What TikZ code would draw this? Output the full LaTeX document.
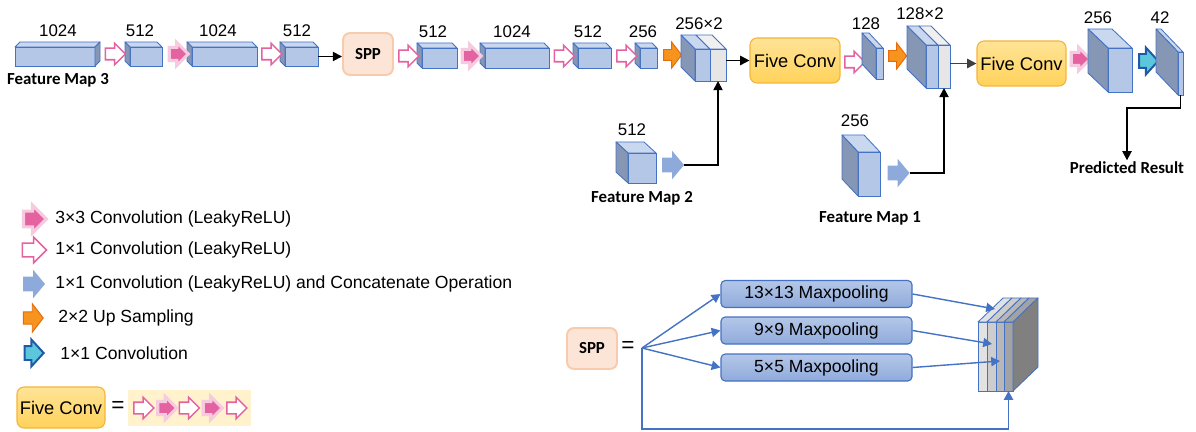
\documentclass[tikz,border=0pt]{standalone}
\usepackage{fontspec}
\setmainfont{Liberation Sans}
\newfontfamily\carlito{Carlito}
\usetikzlibrary{arrows.meta,shapes.arrows,calc}
\usepackage{xcolor}
\definecolor{boxblue}{HTML}{B4C7E7}
\definecolor{boxtop}{HTML}{C9D7EF}
\definecolor{boxside}{HTML}{8597B5}
\definecolor{boxline}{HTML}{4472C4}
\definecolor{catgrey}{HTML}{E7E6E6}
\definecolor{cattop}{HTML}{F0F0F0}
\definecolor{pinkc}{HTML}{E4629F}
\definecolor{pinkglow}{HTML}{F6CADF}
\definecolor{catblue}{HTML}{8EAADB}
\definecolor{uporange}{HTML}{F7941D}
\definecolor{upedge}{HTML}{E46C0A}
\definecolor{cyanc}{HTML}{5BC6DC}
\definecolor{cyanedge}{HTML}{1F5AA6}
\definecolor{fivetop}{HTML}{FFE397}
\definecolor{fivebot}{HTML}{FFD25A}
\definecolor{fiveline}{HTML}{F4B63C}
\definecolor{sppfill}{HTML}{FCE4D6}
\definecolor{sppline}{HTML}{F8CBAD}
\definecolor{bandyellow}{HTML}{FFF2CC}
\definecolor{mptop}{HTML}{B4C7E7}
\definecolor{mpbot}{HTML}{8FAADC}
\definecolor{stka}{HTML}{E2E2E2}
\definecolor{stkb}{HTML}{CDCDCD}
\definecolor{stkc}{HTML}{B7B7B7}
\definecolor{stkd}{HTML}{A2A2A2}
\definecolor{stkside}{HTML}{808080}

\begin{document}
\begin{tikzpicture}[
    x=0.025cm, y=-0.025cm,
    num/.style={font=\fontsize{12}{14}\selectfont, inner sep=1pt},
    mapname/.style={font=\carlito\fontsize{12}{14}\selectfont\bfseries, inner sep=1pt},
    legtext/.style={font=\fontsize{12.5}{15}\selectfont, anchor=west, inner sep=1.5pt},
    front/.style={draw=boxline, fill=boxblue, line width=0.6pt, inner sep=0pt, outer sep=0pt},
    face/.style={draw=boxline, line width=0.6pt, line join=round},
    blockarr/.style={single arrow, inner sep=0pt, outer sep=0pt, minimum width=0pt},
    hconv/.style={blockarr, draw=pinkc, fill=white, line width=1.1pt, inner ysep=5*\pxu, single arrow head extend=5*\pxu, minimum height=20*\pxu},
    fconv/.style={blockarr, draw=pinkglow, fill=pinkc, line width=2.2pt, inner ysep=5*\pxu, single arrow head extend=5*\pxu, minimum height=19*\pxu},
    cconv/.style={blockarr, fill=catblue, inner ysep=7*\pxu, single arrow head extend=7*\pxu, single arrow tip angle=100, minimum height=22*\pxu},
    upsm/.style={blockarr, draw=upedge, fill=uporange, line width=0.7pt, inner ysep=5*\pxu, single arrow head extend=7.5*\pxu, single arrow tip angle=105, minimum height=18*\pxu},
    oconv/.style={blockarr, draw=cyanedge, fill=cyanc, line width=1.4pt, inner ysep=6*\pxu, single arrow head extend=6.5*\pxu, single arrow tip angle=95, minimum height=19*\pxu},
    fiveconv/.style={draw=fiveline, line width=0.8pt, rounded corners=5pt, top color=fivetop, bottom color=fivebot, inner sep=0pt, font=\fontsize{13}{15}\selectfont},
    sppbox/.style={draw=sppline, fill=sppfill, line width=1.4pt, rounded corners=5pt, inner sep=0pt, font=\carlito\fontsize{12}{14}\selectfont\bfseries},
    mpool/.style={draw=boxline, line width=0.8pt, rounded corners=3pt, top color=mptop, bottom color=mpbot, minimum width=191*\pxu, minimum height=27*\pxu, inner sep=0pt, font=\fontsize{12.5}{14}\selectfont},
    eqsign/.style={font=\fontsize{16}{18}\selectfont, inner sep=0pt},
    arrow/.style={-{Triangle[length=2.3mm,width=2.3mm]}, line width=1.2pt},
    sarrow/.style={-{Triangle[length=2.2mm,width=2.3mm]}, draw=boxline, line width=1pt}
]
\def\pxu{0.025cm}
\def\topf#1#2#3#4{\draw[face, fill=#4] (#1.north west) -- ++(#2,#3) -- ([shift={(#2,#3)}]#1.north east) -- (#1.north east) -- cycle;}
\def\sidef#1#2#3#4#5{\draw[face, fill=#5] (#1.north #4) -- ++(#2,#3) -- ([shift={(#2,#3)}]#1.south #4) -- (#1.south #4) -- cycle;}
\def\mapbox#1#2#3#4#5#6#7#8{%
  \node[front, minimum width={(#4-#2)*\pxu}, minimum height={(#5-#3)*\pxu}] (#1) at ({(#2+#4)/2},{(#3+#5)/2}) {};
  \topf{#1}{#6}{#7}{boxtop}\sidef{#1}{#6}{#7}{#8}{boxside}}

\useasboundingbox (0,0) rectangle (1196,432);

% backbone row
\mapbox{bA}{15}{47}{95}{66}{5}{-5}{east}
\mapbox{bB}{130}{47}{162}{66}{-5}{-5}{west}
\mapbox{bC}{192}{47}{257}{66}{-5}{-5}{west}
\mapbox{bD}{285}{47}{318}{66}{-5}{-5}{west}
\mapbox{bE}{422}{48}{457}{68}{-5}{-5}{west}
\mapbox{bF}{485}{48}{549}{68}{-5}{-5}{west}
\mapbox{bG}{578}{48}{611}{68}{-5}{-5}{west}
\mapbox{bH}{640}{48}{657}{68}{-5}{-5}{west}

\node[num] (lA) at (58,31) {1024};
\node[num] (lB) at (140,31) {512};
\node[num] (lC) at (218,31) {1024};
\node[num] (lD) at (297,31) {512};
\node[num] (lE) at (433,32) {512};
\node[num] (lF) at (512,32) {1024};
\node[num] (lG) at (588,32) {512};
\node[num] (lH) at (643,32) {256};
\node[mapname] (fm3) at (58,80) {Feature Map 3};

\node[hconv] (h1) at (112.5,54) {};
\node[fconv] (f1) at (175.5,54) {};
\node[hconv] (h2) at (269,54) {};
\node[sppbox, minimum width=50*\pxu, minimum height=42*\pxu] (spp) at (368,54) {SPP};
\node[hconv] (h3) at (406,56) {};
\node[fconv] (f2) at (468.5,56) {};
\node[hconv] (h4) at (561.5,56) {};
\node[hconv] (h5) at (624,56) {};
\node[upsm] (o1) at (670.5,55) {};

\draw[arrow] (bD.east) -- (bD.east -| spp.west);

% first concatenation
\node[front, minimum width=15*\pxu, minimum height=32*\pxu] (cI1) at (702.5,65) {};
\node[front, fill=catgrey, minimum width=16*\pxu, minimum height=32*\pxu] (cI2) at (718,65) {};
\topf{cI1}{-14}{-14}{boxtop}
\topf{cI2}{-14}{-14}{cattop}
\sidef{cI1}{-14}{-14}{west}{boxside}
\node[num] (lI) at (699,24) {256×2};

\mapbox{bN}{628}{153}{656}{183}{-12}{-11}{west}
\node[num] (lN) at (632,130) {512};
\node[mapname] (fm2) at (642,198) {Feature Map 2};
\node[cconv] (b1) at (670,165) {};
\draw[arrow] (b1.tip) -| (cI2.south);

\node[fiveconv, minimum width=90*\pxu, minimum height=45*\pxu] (fc1) at (795,60.5) {Five Conv};
\draw[arrow] (cI2.east |- fc1.west) -- (fc1.west);

\node[hconv] (h6) at (852,62) {};
\mapbox{bJ}{876}{48}{883}{79}{-14}{-15}{west}
\node[num] (lJ) at (866,24) {128};
\node[upsm] (o2) at (895.5,56) {};

% second concatenation
\node[front, minimum width=12*\pxu, minimum height=43*\pxu] (cK1) at (932,66.5) {};
\node[front, fill=catgrey, minimum width=12*\pxu, minimum height=43*\pxu] (cK2) at (944,66.5) {};
\topf{cK1}{-19}{-19}{boxtop}
\topf{cK2}{-19}{-19}{cattop}
\sidef{cK1}{-19}{-19}{west}{boxside}
\node[num] (lK) at (920,14) {128×2};

\mapbox{bO}{858}{152}{880}{196}{-16}{-17}{west}
\node[num] (lO) at (855,121) {256};
\node[mapname] (fm1) at (870,218) {Feature Map 1};
\node[cconv] (b2) at (895.5,173) {};
\draw[arrow] (b2.tip) -| (cK2.south);

\node[fiveconv, minimum width=89*\pxu, minimum height=45*\pxu] (fc2) at (1021.5,63.5) {Five Conv};
\draw[arrow, draw=black!75] (cK2.east |- fc2.west) -- (fc2.west);

\node[fconv] (f3) at (1077.5,59) {};
\mapbox{bL}{1108}{48}{1132}{92}{-20}{-19}{west}
\node[num] (lL) at (1098,18) {256};
\node[oconv] (c1) at (1145.5,61) {};
\mapbox{bM}{1178}{52}{1183}{95}{-22}{-23}{west}
\node[num] (lM) at (1160,18) {42};

\node[mapname] (pr) at (1127,168) {Predicted Result};
\draw[arrow] (bM.south) -- ++(0,13) -| (pr.north);

% legend
\node[fconv, scale=1.2] (lg1) at (31,219) {};
\node[legtext] (tx1) at (53,219) {3×3 Convolution (LeakyReLU)};
\node[hconv, scale=1.2] (lg2) at (31,250) {};
\node[legtext] (tx2) at (53,250) {1×1 Convolution (LeakyReLU)};
\node[cconv] (lg3) at (31,284) {};
\node[legtext] (tx3) at (53,284) {1×1 Convolution (LeakyReLU) and Concatenate Operation};
\node[upsm, scale=1.1] (lg4) at (31,318) {};
\node[legtext] (tx4) at (56,318) {2×2 Up Sampling};
\node[oconv] (lg5) at (31,353) {};
\node[legtext] (tx5) at (58,353) {1×1 Convolution};

\node[fiveconv, minimum width=88*\pxu, minimum height=41*\pxu] (fcl) at (61,407.5) {Five Conv};
\node[eqsign] (eq1) at (118,407) {=};
\node[fill=bandyellow, minimum width=123*\pxu, minimum height=36*\pxu, inner sep=0pt] (band) at (189.5,408) {};
\node[hconv] (r1) at (141,408) {};
\node[fconv] (r2) at (164,408) {};
\node[hconv] (r3) at (186.5,408) {};
\node[fconv] (r4) at (209.5,408) {};
\node[hconv] (r5) at (234,408) {};

% spp block
\node[sppbox, minimum width=50*\pxu, minimum height=41*\pxu] (spp2) at (592,348.5) {SPP};
\node[eqsign] (eq2) at (628,347) {=};
\coordinate (sp) at (642,348);
\node[mpool] (mp1) at (816.5,294) {13×13 Maxpooling};
\node[mpool] (mp2) at (816.5,330.5) {9×9 Maxpooling};
\node[mpool] (mp3) at (816.5,367.5) {5×5 Maxpooling};

\node[front, fill=stka, minimum width=9*\pxu, minimum height=69*\pxu] (s1) at (982.5,356.5) {};
\node[front, fill=stkb, minimum width=9*\pxu, minimum height=69*\pxu] (s2) at (991.5,356.5) {};
\node[front, fill=stkc, minimum width=8*\pxu, minimum height=69*\pxu] (s3) at (1000,356.5) {};
\node[front, fill=stkd, minimum width=9*\pxu, minimum height=69*\pxu] (s4) at (1008.5,356.5) {};
\topf{s1}{25}{-24}{stka}
\topf{s2}{25}{-24}{stkb}
\topf{s3}{25}{-24}{stkc}
\topf{s4}{25}{-24}{stkd}
\sidef{s4}{25}{-24}{east}{stkside}
\coordinate (t1) at (995,309);
\coordinate (t2) at (992,344);
\coordinate (t3) at (1000,361);

\draw[sarrow] (sp) -- (mp1.west);
\draw[sarrow] (sp) -- (mp2.west);
\draw[sarrow] (sp) -- (mp3.west);
\draw[sarrow] (mp1.east) -- (t1);
\draw[sarrow] (mp2.east) -- (t2);
\draw[sarrow] (mp3.east) -- (t3);
\draw[sarrow] (sp) -- ++(0,81) -| (s4.south);
\end{tikzpicture}
\end{document}
